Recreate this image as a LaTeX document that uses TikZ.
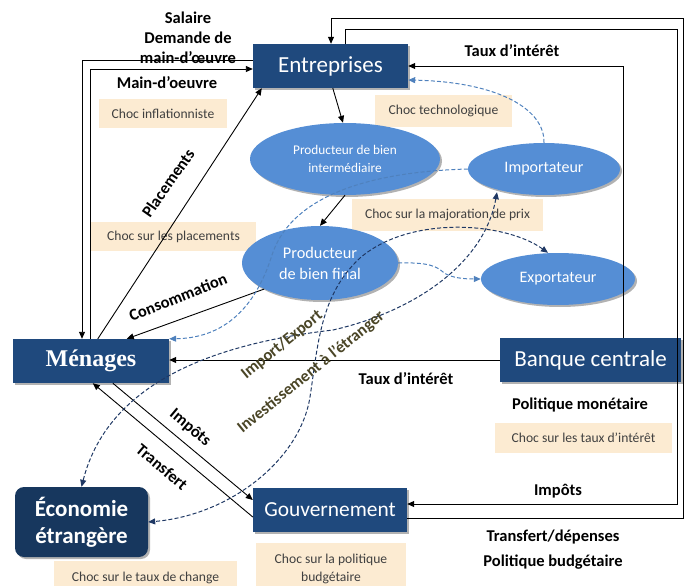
\documentclass[tikz,border=0pt]{standalone}
\usepackage{fontspec}
\setmainfont{Carlito}
\newfontfamily\menfont{Liberation Serif}
\usetikzlibrary{shadows,shapes.geometric,arrows.meta}
\definecolor{boxblue}{HTML}{1F497D}
\definecolor{ecoblue}{HTML}{17375E}
\definecolor{ellblue}{HTML}{558ED5}
\definecolor{chocbg}{HTML}{FCEBD2}
\definecolor{lightdash}{HTML}{4F81BD}
\definecolor{darkdash}{HTML}{1F3864}
\definecolor{olivetxt}{HTML}{4A4526}
\newcommand\myfs[2]{\fontsize{#1}{#2}\selectfont}
\tikzset{
  shad/.style={drop shadow={shadow xshift=2pt,shadow yshift=-2pt,opacity=0.3,fill=black}},
  mainbox/.style={rectangle,fill=boxblue,text=white,inner sep=0pt,minimum height=44pt,shad,font=\myfs{23}{27}},
  ellnode/.style={ellipse,fill=ellblue,text=white,inner sep=0pt,align=center,shad},
  chocbox/.style={rectangle,fill=chocbg,text=black!75,inner sep=0pt,align=center,font=\myfs{13.6}{18}},
  lbl/.style={font=\bfseries\myfs{16.5}{20},inner sep=0pt},
  arr/.style={line width=0.9pt,-{Triangle[length=7pt,width=6pt]}},
  ldash/.style={lightdash,line width=1pt,dash pattern=on 4pt off 2.2pt,-{Triangle[length=7pt,width=6pt]}},
  ddash/.style={darkdash,line width=1pt,dash pattern=on 4pt off 2.2pt,{Triangle[length=7pt,width=6pt]}-{Triangle[length=7pt,width=6pt]}},
}
\begin{document}
\begin{tikzpicture}[x=1pt,y=-1pt]
\useasboundingbox (0,0) rectangle (686,586);
\clip (0,0) rectangle (686,586);
% shock boxes
\node[chocbox,minimum width=128pt,minimum height=29pt] (binf) at (163,113.5) {Choc inflationniste};
\node[chocbox,minimum width=137pt,minimum height=32pt] (btech) at (443.5,111) {Choc technologique};
\node[chocbox,minimum width=165pt,minimum height=29pt] (bplac) at (173.5,236.5) {Choc sur les placements};
\node[chocbox,minimum width=191pt,minimum height=32pt] (bmaj) at (447.5,215) {Choc sur la majoration de prix};
\node[chocbox,minimum width=177pt,minimum height=30pt] (btaux) at (583.5,438) {Choc sur les taux d’intérêt};
\node[chocbox,minimum width=183pt,minimum height=34pt] (bchg) at (145.5,578) {Choc sur le taux de change};
\node[chocbox,minimum width=150pt,minimum height=52pt] (bbud) at (331,569) {Choc sur la politique\\budgétaire};
% ellipses
\node[ellnode,minimum width=190pt,minimum height=72pt,font=\myfs{13.3}{17.5}] (pi) at (345,159) {Producteur de bien\\intermédiaire};
\node[ellnode,minimum width=152pt,minimum height=52pt,font=\myfs{16}{20}] (imp) at (544,169) {Importateur};
\node[ellnode,minimum width=156pt,minimum height=74pt,font=\myfs{16.3}{21}] (pf) at (320,263) {Producteur\\de bien final};
\node[ellnode,minimum width=154pt,minimum height=52pt,font=\myfs{16}{20}] (exp) at (558,279) {Exportateur};
% main boxes
\node[mainbox,minimum width=155pt] (ent) at (330.5,66) {Entreprises};
\node[mainbox,minimum width=156pt,font=\menfont\bfseries\myfs{24}{28}] (men) at (91,361) {Ménages};
\node[mainbox,minimum width=181pt] (bc) at (590.5,360) {Banque centrale};
\node[mainbox,minimum width=154pt,font=\myfs{21.4}{25}] (gov) at (330,510) {Gouvernement};
\node[rectangle,rounded corners=9pt,fill=ecoblue,text=white,inner sep=0pt,minimum width=133pt,minimum height=70pt,align=center,shad,font=\bfseries\myfs{23}{27}] (eco) at (81.5,522) {Économie\\étrangère};
% helper coordinates
\coordinate (csal) at (82,60);
\coordinate (cmo) at (90,69);
\coordinate (cbc) at (623,66);
\coordinate (cg1) at (345,29);
\coordinate (cg2) at (677,29);
\coordinate (cg3) at (677,504);
\coordinate (ct1) at (683,518);
\coordinate (ct2) at (683,18);
\coordinate (ct3) at (331,18);
% solid connectors
\draw[arr] (ent.west |- csal) -- (csal) -- (men.north -| csal);
\draw[arr] (men.north -| cmo) -- (cmo) -- (ent.west |- cmo);
\draw[arr] ([xshift=85pt]men.north west) -- ([xshift=9pt]ent.south west);
\draw[arr] ([xshift=80pt]ent.south west) -- ([xshift=-2pt]pi.north);
\draw[arr] (pi.south) -- (pf.north);
\draw[arr] (pf.205) -- ([xshift=114pt]men.north west);
\draw[arr] (bc.west) -- (bc.west -| men.east);
\draw[arr] (bc.north -| cbc) -- (cbc) -- (ent.east |- cbc);
\draw[arr] (ent.north -| cg1) -- (cg1) -- (cg2) -- (cg3) -- (gov.east |- cg3);
\draw[arr] (gov.east |- ct1) -- (ct1) -- (ct2) -- (ct3) -- (ent.north -| ct3);
\draw[arr] ([xshift=100pt]men.south west) -- ([yshift=10pt]gov.west);
\draw[arr] ([yshift=-7pt]gov.west) -- ([xshift=80pt]men.south west);
% dashed connectors
\draw[ldash] (imp.north) .. controls (545,110) and (500,82) .. ([yshift=-14pt]ent.east);
\draw[ldash] (imp.west) .. controls (360,172) and (290,200) .. (272,255) .. controls (258,300) and (230,338) .. (men.north east);
\draw[ldash] (pf.east) .. controls (430,262) and (437,267) .. (443,272) .. controls (450,278) and (465,279) .. (exp.west);
\draw[ddash] ([xshift=-10pt]exp.north) .. controls (505,222) and (410,215) .. (360,258) .. controls (320,295) and (318,345) .. (310,397) .. controls (300,460) and (230,515) .. (eco.east);
\draw[ddash] ([xshift=-47pt,yshift=3pt]imp.south) .. controls (485,260) and (420,310) .. (333,330) .. controls (230,342) and (110,375) .. (eco.north);
% labels
\node[lbl] (lsal) at (188,18) {Salaire};
\node[lbl] (ldem) at (188,38) {Demande de};
\node[lbl] (lmain) at (188,58) {main-d’œuvre};
\node[lbl] (lmo) at (167,83) {Main-d’oeuvre};
\node[lbl,rotate=55] (lplac) at (168,183) {Placements};
\node[lbl,rotate=22] (lcons) at (178,297) {Consommation};
\node[lbl] (ltaux1) at (512,51) {Taux d’intérêt};
\node[lbl] (ltaux2) at (406,379) {Taux d’intérêt};
\node[lbl] (lpm) at (580,405) {Politique monétaire};
\node[lbl] (limp) at (558,491) {Impôts};
\node[lbl] (ltd) at (553,537) {Transfert/dépenses};
\node[lbl] (lpb) at (553,562) {Politique budgétaire};
\node[lbl,rotate=-40] (limp2) at (190,428) {Impôts};
\node[lbl,rotate=-40] (ltr) at (162,467) {Transfert};
\node[lbl,text=olivetxt,rotate=39] (lie) at (282,345) {Import/Export};
\node[lbl,text=olivetxt,rotate=39] (linv) at (311,372) {Investissement à l’étranger};
\end{tikzpicture}
\end{document}
